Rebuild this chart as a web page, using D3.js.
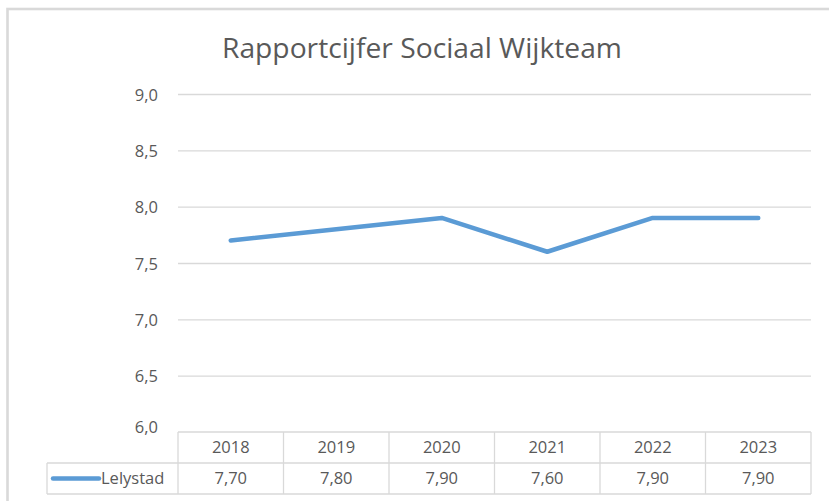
<!DOCTYPE html>
<html>
<head>
<meta charset="utf-8">
<script src="https://cdn.jsdelivr.net/npm/d3@7"></script>
<style>
  html, body { margin: 0; padding: 0; background: #ffffff; }
  svg { display: block; }
  text { font-family: "Open Sans", "Noto Sans", sans-serif; fill: #595959; }
</style>
</head>
<body>
<svg id="chart" width="829" height="501"></svg>
<script>
// Rapportcijfer Sociaal Wijkteam, Lelystad
const years = ["2018", "2019", "2020", "2021", "2022", "2023"];
const seriesName = "Lelystad";
const lelystad = [7.70, 7.80, 7.90, 7.60, 7.90, 7.90];
const yTicks = [6.0, 6.5, 7.0, 7.5, 8.0, 8.5, 9.0];
const titleText = "Rapportcijfer Sociaal Wijkteam";

const W = 829, H = 501;
const svg = d3.select("#chart");

const plot = { left: 178, right: 811, top: 94, bottom: 432 };
const tableRows = { header: 432, mid: 463, bottom: 494 };
const legendLeft = 47;

const lineColor = "#5b9bd5";
const gridColor = "#d9d9d9";

const fmt1 = v => d3.format(".1f")(v).replace(".", ",");
const fmt2 = v => d3.format(".2f")(v).replace(".", ",");

// outer chart frame
svg.append("rect")
  .attr("x", 7.5).attr("y", 9)
  .attr("width", W + 20).attr("height", H + 20)
  .attr("fill", "none")
  .attr("stroke", "#d9d9d9")
  .attr("stroke-width", 2.6);

// title
svg.append("text")
  .attr("x", 422).attr("y", 58)
  .attr("text-anchor", "middle")
  .attr("font-size", 27)
  .attr("textLength", 400)
  .attr("lengthAdjust", "spacingAndGlyphs")
  .text(titleText);

const x = d3.scaleBand().domain(years).range([plot.left, plot.right]);
const y = d3.scaleLinear().domain([6, 9]).range([plot.bottom, plot.top]);

// gridlines + y labels via axis
const yAxis = d3.axisLeft(y)
  .tickValues(yTicks)
  .tickSize(-(plot.right - plot.left))
  .tickPadding(20)
  .tickFormat(fmt1);

const gy = svg.append("g")
  .attr("transform", `translate(${plot.left},0)`)
  .call(yAxis);
gy.select(".domain").remove();
gy.selectAll(".tick line")
  .attr("stroke", gridColor)
  .attr("stroke-width", 1.3);
gy.selectAll(".tick text")
  .attr("font-size", 16.5)
  .attr("fill", "#595959")
  .attr("font-family", "'Open Sans', 'Noto Sans', sans-serif")
  .attr("dy", "0.38em");
// the 6,0 line is the top of the data table; drop its grid line
gy.selectAll(".tick").filter(d => d === 6).select("line").remove();
gy.selectAll(".tick").filter(d => d === 6).select("text").attr("dy", "0.05em");

// data table
const table = svg.append("g").attr("stroke", gridColor).attr("stroke-width", 1.3);
table.append("line")
  .attr("x1", plot.left).attr("x2", plot.right)
  .attr("y1", tableRows.header).attr("y2", tableRows.header);
table.append("line")
  .attr("x1", legendLeft).attr("x2", plot.right)
  .attr("y1", tableRows.mid).attr("y2", tableRows.mid);
table.append("line")
  .attr("x1", legendLeft).attr("x2", plot.right)
  .attr("y1", tableRows.bottom).attr("y2", tableRows.bottom);
table.append("line")
  .attr("x1", legendLeft).attr("x2", legendLeft)
  .attr("y1", tableRows.mid).attr("y2", tableRows.bottom);
const colEdges = years.map(d => x(d)).concat([x(years[years.length - 1]) + x.bandwidth()]);
table.selectAll("line.col").data(colEdges).join("line")
  .attr("class", "col")
  .attr("x1", d => d).attr("x2", d => d)
  .attr("y1", tableRows.header).attr("y2", tableRows.bottom);

svg.append("g").selectAll("text").data(years).join("text")
  .attr("x", d => x(d) + x.bandwidth() / 2)
  .attr("y", (tableRows.header + tableRows.mid) / 2)
  .attr("dy", "0.36em")
  .attr("text-anchor", "middle")
  .attr("font-size", 16.5)
  .text(d => d);

svg.append("g").selectAll("text").data(lelystad).join("text")
  .attr("x", (d, i) => x(years[i]) + x.bandwidth() / 2)
  .attr("y", (tableRows.mid + tableRows.bottom) / 2)
  .attr("dy", "0.36em")
  .attr("text-anchor", "middle")
  .attr("font-size", 16.5)
  .text(d => fmt2(d));

// legend key inside the table
const keyY = (tableRows.mid + tableRows.bottom) / 2;
svg.append("line")
  .attr("x1", 53).attr("x2", 99)
  .attr("y1", keyY).attr("y2", keyY)
  .attr("stroke", lineColor)
  .attr("stroke-width", 4.5)
  .attr("stroke-linecap", "round");
svg.append("text")
  .attr("x", 101).attr("y", keyY)
  .attr("dy", "0.36em")
  .attr("font-size", 16.5)
  .text(seriesName);

// series line
const line = d3.line()
  .x((d, i) => x(years[i]) + x.bandwidth() / 2)
  .y(d => y(d));
svg.append("path")
  .datum(lelystad)
  .attr("d", line)
  .attr("fill", "none")
  .attr("stroke", lineColor)
  .attr("stroke-width", 4.5)
  .attr("stroke-linejoin", "round")
  .attr("stroke-linecap", "round");
</script>
</body>
</html>
